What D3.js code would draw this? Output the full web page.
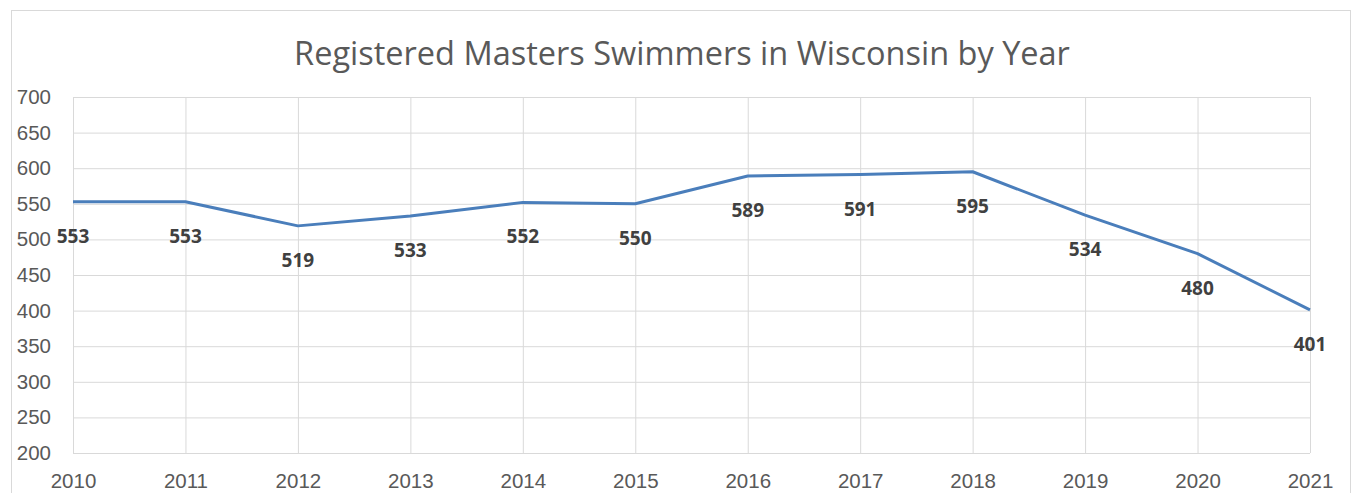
<!DOCTYPE html>
<html>
<head>
<meta charset="utf-8">
<script src="https://cdn.jsdelivr.net/npm/d3@7.9.0/dist/d3.min.js"></script>
<style>
  html, body { margin: 0; padding: 0; background: #fff; }
  svg { display: block; font-family: "Open Sans", "Noto Sans", sans-serif; }
</style>
</head>
<body>
<svg id="chart" width="1356" height="493"></svg>
<script>
// Chart data
const years = ["2010", "2011", "2012", "2013", "2014", "2015", "2016", "2017", "2018", "2019", "2020", "2021"];
const swimmers = [553, 553, 519, 533, 552, 550, 589, 591, 595, 534, 480, 401];
const yTicks = [200, 250, 300, 350, 400, 450, 500, 550, 600, 650, 700];
const title = "Registered Masters Swimmers in Wisconsin by Year";

const svg = d3.select("#chart");
const margin = { top: 97, right: 46, bottom: 40, left: 73 };
const width = 1356, height = 493;

// Outer chart border
svg.append("rect")
    .attr("x", 11.5).attr("y", 10.5)
    .attr("width", 1339).attr("height", 500)
    .attr("fill", "#fff")
    .attr("stroke", "#d9d9d9");

const x = d3.scalePoint()
    .domain(years)
    .range([margin.left, width - margin.right]);

const y = d3.scaleLinear()
    .domain([200, 700])
    .range([height - margin.bottom, margin.top]);

// Horizontal gridlines + y labels
const yAxis = d3.axisLeft(y)
    .tickValues(yTicks)
    .tickSize(-(width - margin.right - margin.left))
    .tickPadding(22);

const gy = svg.append("g")
    .attr("transform", `translate(${margin.left},0)`)
    .call(yAxis);
gy.select(".domain").remove();
gy.selectAll("line").attr("stroke", "#d9d9d9");
gy.selectAll("text")
    .attr("fill", "#595959")
    .style("font-size", "20.5px");

// Vertical gridlines + x labels
const xAxis = d3.axisBottom(x)
    .tickSize(-(height - margin.bottom - margin.top))
    .tickPadding(20);

const gx = svg.append("g")
    .attr("transform", `translate(0,${height - margin.bottom})`)
    .call(xAxis);
gx.select(".domain").remove();
gx.selectAll("line").attr("stroke", "#d9d9d9");
gx.selectAll("text")
    .attr("fill", "#595959")
    .style("font-size", "20.5px");

// Line
const line = d3.line()
    .x((d, i) => x(years[i]))
    .y(d => y(d));

svg.append("path")
    .datum(swimmers)
    .attr("d", line)
    .attr("fill", "none")
    .attr("stroke", "#4a7ebb")
    .attr("stroke-width", 3)
    .attr("stroke-linejoin", "round");

// Data labels, below each point
svg.selectAll(".lbl")
    .data(swimmers)
    .enter()
    .append("text")
    .attr("class", "lbl")
    .attr("x", (d, i) => x(years[i]))
    .attr("y", d => y(d) + 41)
    .attr("text-anchor", "middle")
    .attr("fill", "#404040")
    .style("font-size", "19px")
    .style("font-weight", "bold")
    .text(d => d);

// Title
svg.append("text")
    .attr("x", 682)
    .attr("y", 65)
    .attr("text-anchor", "middle")
    .attr("fill", "#595959")
    .style("font-size", "32.5px")
    .text(title);
</script>
</body>
</html>
